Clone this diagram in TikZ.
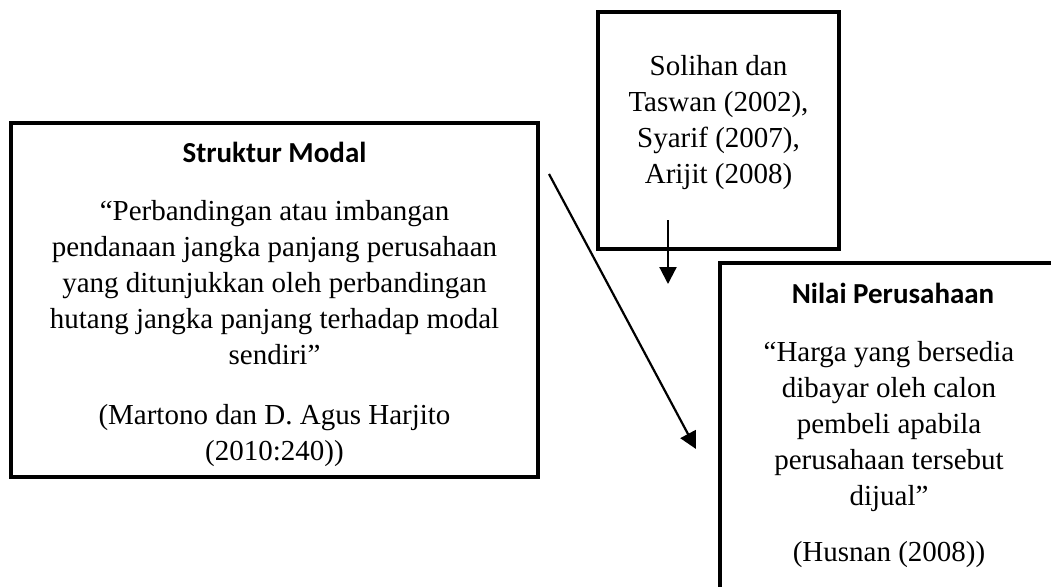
\documentclass[tikz,border=0pt]{standalone}
\usepackage{fontspec}
\setmainfont{Liberation Serif}
\newfontfamily\hfont{Carlito}
\usetikzlibrary{arrows.meta}
\newcommand\stk[1]{\begin{tabular}[t]{@{}c@{}}#1\end{tabular}}
\tikzset{
  boxframe/.style={draw=black, line width=3.8pt, rectangle, inner sep=0pt, fill=none},
  txt/.style={anchor=base, inner sep=0pt, font=\fontsize{29}{36}\selectfont},
  hd/.style={anchor=base, inner sep=0pt, font=\fontsize{29}{36}\selectfont\hfont\bfseries},
  arr/.style={line width=2.2pt, -{Triangle[length=17pt,width=17pt]}}
}
\begin{document}
\begin{tikzpicture}[x=1pt,y=-1pt]
\useasboundingbox (0,0) rectangle (1051,586);
\clip (0,0) rectangle (1051,586);
\fill[white] (0,0) rectangle (1051,586);
% boxes
\node[boxframe, minimum width=527pt, minimum height=354pt] (sm) at (274.5,300) {};
\node[boxframe, minimum width=241pt, minimum height=237pt] (ref) at (718.5,130.5) {};
\node[boxframe, minimum width=340pt, minimum height=357pt] (np) at (890,441.5) {};
% left box text
\node[hd] (smh) at (274.5,162) {Struktur Modal};
\node[txt] (smq) at (274.5,220) {\stk{“Perbandingan atau imbangan\\pendanaan jangka panjang perusahaan\\yang ditunjukkan oleh perbandingan\\hutang jangka panjang terhadap modal\\sendiri”}};
\node[txt] (smc) at (274.5,424) {\stk{(Martono dan D. Agus Harjito\\(2010:240))}};
% top box text
\node[txt] (reft) at (718.5,75) {\stk{Solihan dan\\Taswan (2002),\\Syarif (2007),\\Arijit (2008)}};
% right box text
\node[hd] (nph) at (893,303) {Nilai Perusahaan};
\node[txt] (npq) at (889,361) {\stk{“Harga yang bersedia\\dibayar oleh calon\\pembeli apabila\\perusahaan tersebut\\dijual”}};
\node[txt] (npc) at (889,561) {(Husnan (2008))};
% arrows
\coordinate (d1) at (549,174);
\coordinate (d2) at (696,449);
\draw[arr] (d1) -- (d2);
\coordinate (v1) at (668,220);
\coordinate (v2) at (668,284);
\draw[arr] (v1) -- (v2);
\end{tikzpicture}
\end{document}
